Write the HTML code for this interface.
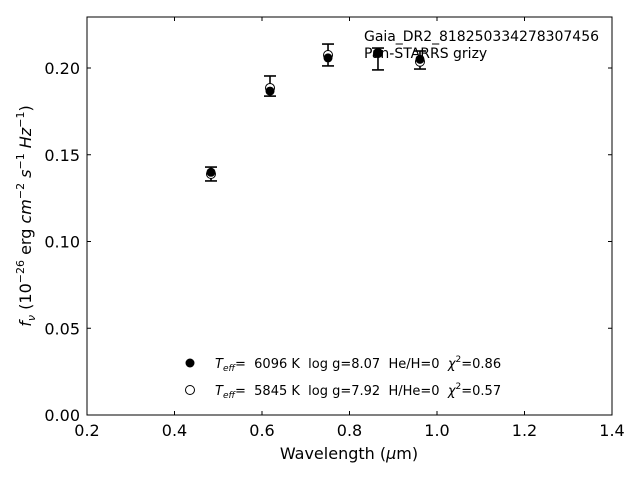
<!DOCTYPE html>
<html><head><meta charset="utf-8"><style>
body{margin:0;background:#fff;}
svg{display:block;font-family:"DejaVu Sans","Liberation Sans",sans-serif;}
text{white-space:pre;}
</style></head><body>
<svg id="c" width="640" height="480" xmlns="http://www.w3.org/2000/svg">
<rect x="87" y="17" width="525" height="398" fill="none" stroke="#000" stroke-width="1"/>
<g id="ticks"></g>
<g id="marks"></g>
<text x="349" y="459" font-size="16" text-anchor="middle">Wavelength (<tspan font-style="italic">μ</tspan>m)</text>
<text transform="translate(31,216) rotate(-90)" font-size="16" text-anchor="middle"><tspan font-style="italic">f<tspan font-size="11" dy="4">ν</tspan></tspan><tspan dy="-4"> (10</tspan><tspan font-size="11" dy="-7">−26</tspan><tspan dy="7"> erg </tspan><tspan font-style="italic">cm</tspan><tspan font-size="11" dy="-7">−2</tspan><tspan dy="7" font-style="italic"> s</tspan><tspan font-size="11" dy="-7">−1</tspan><tspan dy="7" font-style="italic"> Hz</tspan><tspan font-size="11" dy="-7">−1</tspan><tspan dy="7">)</tspan></text>
<text x="364" y="41" font-size="14" textLength="235">Gaia_DR2_818250334278307456</text>
<text x="364" y="58" font-size="14">Pan-STARRS grizy</text>
<g>
<circle cx="190" cy="363" r="4.5" fill="#000"/>
<text x="215" y="368" font-size="13" xml:space="preserve"><tspan font-style="italic">T<tspan font-size="9" dy="3">eff</tspan></tspan><tspan dy="-3">=  6096 K  log g=8.07  He/H=0  </tspan><tspan font-style="italic">χ</tspan><tspan font-size="9" dy="-6">2</tspan><tspan dy="6">=0.86</tspan></text>
<circle cx="190" cy="390" r="4.5" fill="#fff" stroke="#000" stroke-width="1"/>
<text x="215" y="395" font-size="13" xml:space="preserve"><tspan font-style="italic">T<tspan font-size="9" dy="3">eff</tspan></tspan><tspan dy="-3">=  5845 K  log g=7.92  H/He=0  </tspan><tspan font-style="italic">χ</tspan><tspan font-size="9" dy="-6">2</tspan><tspan dy="6">=0.57</tspan></text>
</g>
</svg>
<script>
const wavelengths=[0.4834,0.6183,0.7509,0.8651,0.9611];
const observed=[0.1389,0.1896,0.2075,0.2052,0.2046];
const observedErr=[0.0040,0.0058,0.0063,0.0063,0.0052];
const modelFilled=[0.1399,0.1867,0.2058,0.2088,0.2050];
const modelOpen=[0.1389,0.1885,0.2075,0.2086,0.2036];
const xTicks=[0.2,0.4,0.6,0.8,1.0,1.2,1.4];
const yTicks=[0.00,0.05,0.10,0.15,0.20];
const NS="http://www.w3.org/2000/svg";
const xs=v=>87+(v-0.2)/1.2*525;
const ys=v=>415-v*1735;
function mk(tag,attrs,parent){const e=document.createElementNS(NS,tag);for(const k in attrs)e.setAttribute(k,attrs[k]);parent.appendChild(e);return e;}
const tg=document.getElementById('ticks');
xTicks.forEach(t=>{const x=xs(t);
 let l=mk('line',{x1:x,x2:x,y1:415,y2:411,stroke:'#000'},tg);
 
 
 let l2=mk('line',{x1:x,x2:x,y1:17,y2:21,stroke:'#000'},tg);
 
 
 let tx=mk('text',{x:x,y:436,'font-size':16,'text-anchor':'middle'},tg);tx.textContent=t.toFixed(1);
 
 
});
yTicks.forEach(t=>{const y=ys(t);
 let l=mk('line',{x1:87,x2:91,y1:y,y2:y,stroke:'#000'},tg);
 
 
 let l2=mk('line',{x1:608,x2:612,y1:y,y2:y,stroke:'#000'},tg);
 
 
 let tx=mk('text',{x:80,y:y+6,'font-size':16,'text-anchor':'end'},tg);tx.textContent=t.toFixed(2);
 
 
});
const mg=document.getElementById('marks');
wavelengths.forEach((w,i)=>{const x=xs(w);
 const g=mk('g',{stroke:'#000','stroke-width':1.6},mg);
 
 
 const y1=ys(observed[i]+observedErr[i]),y2=ys(observed[i]-observedErr[i]);
 mk('line',{x1:x,x2:x,y1:y1,y2:y2},g);
 mk('line',{x1:x-6,x2:x+6,y1:y1,y2:y1},g);
 mk('line',{x1:x-6,x2:x+6,y1:y2,y2:y2},g);
});
wavelengths.forEach((w,i)=>{
 const c=mk('circle',{cx:xs(w),cy:ys(modelOpen[i]),r:4.5,fill:'#fff',stroke:'#000','stroke-width':1},mg);
 
 
});
wavelengths.forEach((w,i)=>{
 const c=mk('circle',{cx:xs(w),cy:ys(modelFilled[i]),r:4.5,fill:'#000'},mg);
 
 
});
</script>
</body></html>
